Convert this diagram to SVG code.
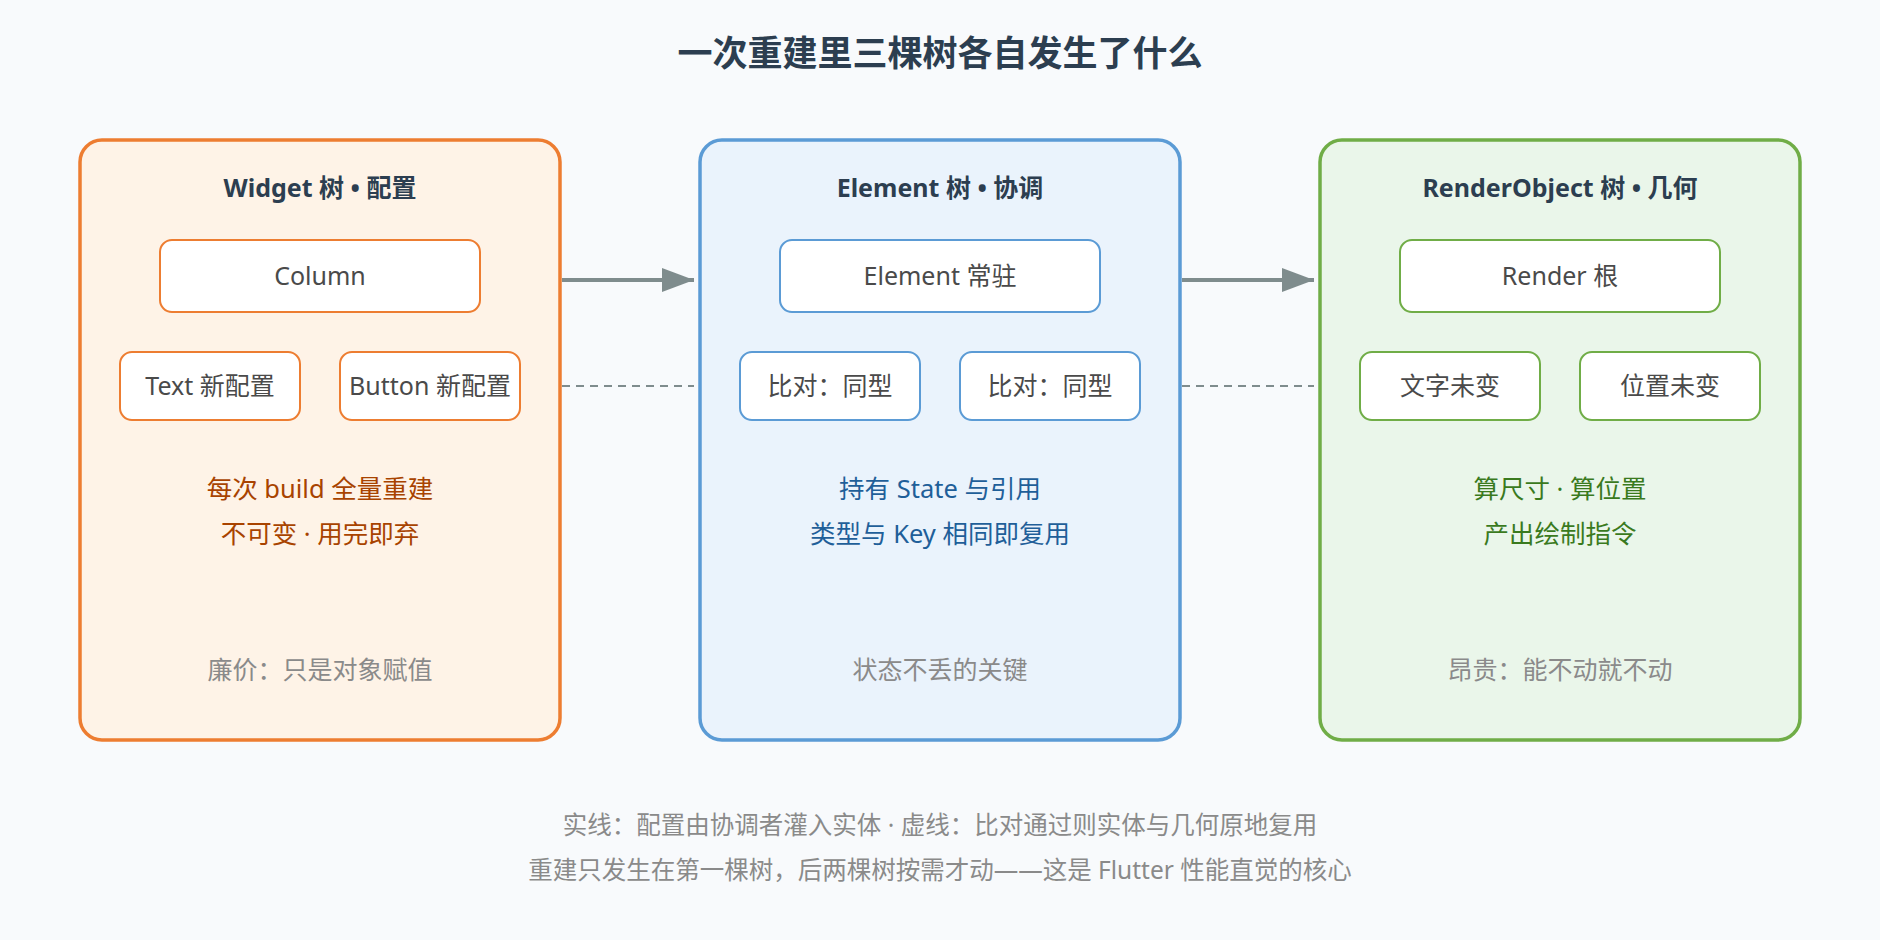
<svg xmlns="http://www.w3.org/2000/svg" width="1880" height="940" viewBox="0 0 1880 940">
<style>
text{font-family:"Noto Sans","Noto Sans CJK SC",sans-serif;text-anchor:middle}
.t{font-size:35px;font-weight:bold;fill:#2C3E50}
.h{font-size:25px;font-weight:bold;fill:#2C3E50}
.n{font-size:25px;fill:#4A4A4A}
.d{font-size:25.5px}
.f{font-size:25px;fill:#8A8A8A}
.b{font-size:24.5px;fill:#8A8A8A}
.node{fill:#fff;stroke-width:2}
</style>
<defs><marker id="a" markerWidth="32" markerHeight="24" refX="32" refY="12" orient="auto" markerUnits="userSpaceOnUse" viewBox="0 0 32 24"><path d="M0,0L32,12L0,24z" fill="#7F8C8D"/></marker></defs>
<rect width="1880" height="940" fill="#F8FAFC"/>
<text class="t" x="940" y="66">一次重建里三棵树各自发生了什么</text>
<g id="widget">
<rect x="80" y="140" width="480" height="600" rx="22" fill="#FEF3E7" stroke="#ED7D31" stroke-width="3.5"/>
<text class="h" x="320" y="197">Widget 树 • 配置</text>
<rect class="node" x="160" y="240" width="320" height="72" rx="12" stroke="#ED7D31"/><text class="n" x="320" y="285">Column</text>
<rect class="node" x="120" y="352" width="180" height="68" rx="12" stroke="#ED7D31"/><text class="n" x="210" y="395">Text 新配置</text>
<rect class="node" x="340" y="352" width="180" height="68" rx="12" stroke="#ED7D31"/><text class="n" x="430" y="395">Button 新配置</text>
<text class="d" x="320" y="498" fill="#A84300">每次 build 全量重建</text>
<text class="d" x="320" y="543" fill="#A84300">不可变 · 用完即弃</text>
<text class="f" x="320" y="679">廉价：只是对象赋值</text>
</g>
<g id="element">
<rect x="700" y="140" width="480" height="600" rx="22" fill="#EAF3FC" stroke="#5B9BD5" stroke-width="3.5"/>
<text class="h" x="940" y="197">Element 树 • 协调</text>
<rect class="node" x="780" y="240" width="320" height="72" rx="12" stroke="#5B9BD5"/><text class="n" x="940" y="285">Element 常驻</text>
<rect class="node" x="740" y="352" width="180" height="68" rx="12" stroke="#5B9BD5"/><text class="n" x="830" y="395">比对：同型</text>
<rect class="node" x="960" y="352" width="180" height="68" rx="12" stroke="#5B9BD5"/><text class="n" x="1050" y="395">比对：同型</text>
<text class="d" x="940" y="498" fill="#1F5F99">持有 State 与引用</text>
<text class="d" x="940" y="543" fill="#1F5F99">类型与 Key 相同即复用</text>
<text class="f" x="940" y="679">状态不丢的关键</text>
</g>
<g id="render">
<rect x="1320" y="140" width="480" height="600" rx="22" fill="#EAF6EA" stroke="#70AD47" stroke-width="3.5"/>
<text class="h" x="1560" y="197">RenderObject 树 • 几何</text>
<rect class="node" x="1400" y="240" width="320" height="72" rx="12" stroke="#70AD47"/><text class="n" x="1560" y="285">Render 根</text>
<rect class="node" x="1360" y="352" width="180" height="68" rx="12" stroke="#70AD47"/><text class="n" x="1450" y="395">文字未变</text>
<rect class="node" x="1580" y="352" width="180" height="68" rx="12" stroke="#70AD47"/><text class="n" x="1670" y="395">位置未变</text>
<text class="d" x="1560" y="498" fill="#3A7A1E">算尺寸 · 算位置</text>
<text class="d" x="1560" y="543" fill="#3A7A1E">产出绘制指令</text>
<text class="f" x="1560" y="679">昂贵：能不动就不动</text>
</g>
<g id="connectors" stroke="#7F8C8D">
<line x1="562" y1="280" x2="694" y2="280" stroke-width="4" marker-end="url(#a)"/>
<line x1="1182" y1="280" x2="1314" y2="280" stroke-width="4" marker-end="url(#a)"/>
<line x1="562" y1="386" x2="694" y2="386" stroke-width="2" stroke-dasharray="8 6"/>
<line x1="1182" y1="386" x2="1314" y2="386" stroke-width="2" stroke-dasharray="8 6"/>
</g>
<text class="b" x="940" y="834">实线：配置由协调者灌入实体 · 虚线：比对通过则实体与几何原地复用</text>
<text class="b" x="940" y="879">重建只发生在第一棵树，后两棵树按需才动——这是 Flutter 性能直觉的核心</text>
</svg>
